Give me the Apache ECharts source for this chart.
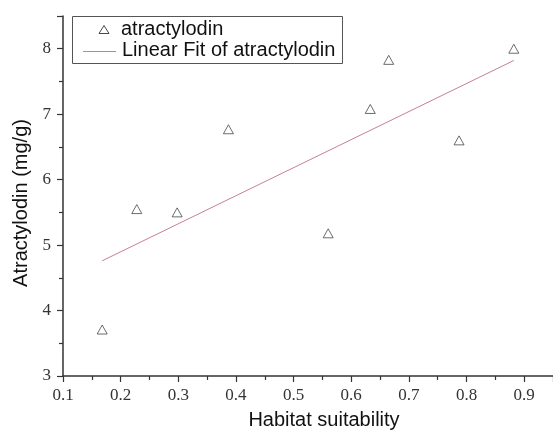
<!DOCTYPE html>
<html><head><meta charset="utf-8">
<script src="https://cdn.jsdelivr.net/npm/echarts@6/dist/echarts.min.js"></script>
<style>html,body{margin:0;padding:0;background:#fff}#c{width:553px;height:435px}</style>
</head><body><div id="c"></div>
<script>
var habitat = [0.168, 0.228, 0.298, 0.387, 0.560, 0.633, 0.665, 0.787, 0.882];
var atractylodin = [3.71, 5.55, 5.50, 6.77, 5.18, 7.08, 7.83, 6.60, 8.00];
var fitX = [0.168, 0.882];
var fitY = [4.76, 7.82];
var seriesNames = ['atractylodin', 'Linear Fit of atractylodin'];
var fitColor = '#c8808e';

var chart = echarts.init(document.getElementById('c'));
var axisCommon = {
  axisLine: {show: true, lineStyle: {color: '#333', width: 1.5}},
  axisTick: {show: true, length: 6, lineStyle: {color: '#333', width: 1.2}},
  minorTick: {show: true, splitNumber: 2, length: 4, lineStyle: {color: '#333', width: 1.2}},
  splitLine: {show: false},
  axisLabel: {fontFamily: 'Liberation Serif', fontSize: 17, color: '#333'},
  nameTextStyle: {fontFamily: 'Liberation Sans', fontSize: 20, color: '#111'}
};
chart.setOption({
  animation: false,
  backgroundColor: '#fff',
  grid: {left: 63, right: 0, top: 16, bottom: 59, containLabel: false},
  xAxis: Object.assign({}, axisCommon, {
    type: 'value', min: 0.1, max: 0.95, interval: 0.1,
    name: 'Habitat suitability', nameLocation: 'middle', nameGap: 34,
    nameTextStyle: Object.assign({}, axisCommon.nameTextStyle, {padding: [0, 0, 0, 32]}),
    axisLabel: Object.assign({}, axisCommon.axisLabel, {margin: 11, showMaxLabel: false, formatter: function(v){return v.toFixed(1);}})
  }),
  yAxis: Object.assign({}, axisCommon, {
    type: 'value', min: 3, max: 8.5, interval: 1,
    name: 'Atractylodin (mg/g)', nameLocation: 'middle', nameGap: 23,
    nameTextStyle: Object.assign({}, axisCommon.nameTextStyle, {padding: [0, 14, 0, 0]}),
    axisLabel: Object.assign({}, axisCommon.axisLabel, {margin: 12, showMaxLabel: false})
  }),
  graphic: [
    {type: 'rect', shape: {x: 72.5, y: 16.5, width: 270, height: 47}, style: {fill: '#fff', stroke: '#555', lineWidth: 1}, z: 10},
    {type: 'polygon', shape: {points: [[104, 25.5], [109, 33.5], [99, 33.5]]}, style: {fill: 'none', stroke: '#333', lineWidth: 0.9}, z: 11},
    {type: 'text', left: 121, top: 19, style: {text: seriesNames[0], font: '20px "Liberation Sans"', fill: '#111'}, z: 11},
    {type: 'line', shape: {x1: 83, y1: 51.5, x2: 116, y2: 51.5}, style: {stroke: fitColor, lineWidth: 1}, z: 11},
    {type: 'text', left: 122, top: 40, style: {text: seriesNames[1], font: '20px "Liberation Sans"', fill: '#111'}, z: 11}
  ],
  series: [
    {
      name: seriesNames[0], type: 'scatter',
      symbol: 'triangle', symbolSize: [10, 9],
      itemStyle: {color: 'rgba(255,255,255,0)', borderColor: '#333', borderWidth: 0.9},
      data: habitat.map(function(x, i){return [x, atractylodin[i]];})
    },
    {
      name: seriesNames[1], type: 'line', symbol: 'none',
      lineStyle: {color: fitColor, width: 1},
      itemStyle: {color: fitColor},
      data: fitX.map(function(x, i){return [x, fitY[i]];})
    }
  ]
});
</script></body></html>
